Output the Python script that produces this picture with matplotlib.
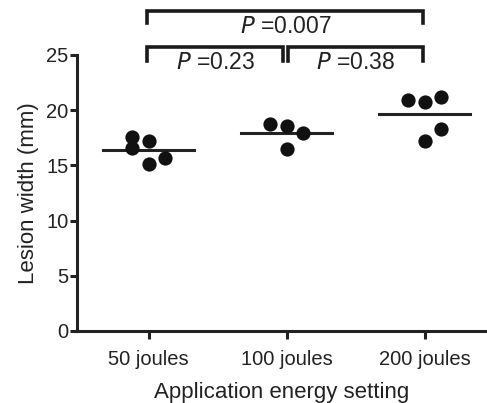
import numpy as np
import matplotlib.pyplot as plt

plt.rcParams['font.family'] = ['Liberation Sans', 'DejaVu Sans']

groups = ['50 joules', '100 joules', '200 joules']
vals_50 = [17.6, 17.2, 16.6, 15.1, 15.7]
vals_100 = [18.75, 18.6, 17.9, 16.5]
vals_200 = [20.9, 20.7, 21.2, 18.3, 17.2]
offsets_50 = [-0.12, 0.0, -0.12, 0.0, 0.12]
offsets_100 = [-0.12, 0.0, 0.12, 0.0]
offsets_200 = [-0.12, 0.0, 0.12, 0.12, 0.0]
pvals = ['0.23', '0.38', '0.007']

data = [vals_50, vals_100, vals_200]
offs = [offsets_50, offsets_100, offsets_200]

fig = plt.figure(figsize=(4.87, 4.03), dpi=100)
ax = fig.add_axes([77/487, 72/403, (487-77)/487, 276/403])

for i, (v, o) in enumerate(zip(data, offs)):
    ax.scatter(np.array(o) + i, v, s=105, color='#111111', zorder=3, linewidths=0)
    m = np.mean(v)
    ax.plot([i - 0.33, i + 0.33], [m, m], color='#222222', lw=2.2, zorder=2)

ax.set_xlim(-0.52, 2.45)
ax.set_ylim(0, 25)
ax.set_yticks([0, 5, 10, 15, 20, 25])
ax.set_xticks([0, 1, 2])
ax.set_xticklabels(groups)
for s in ['top', 'right']:
    ax.spines[s].set_visible(False)
for s in ['left', 'bottom']:
    ax.spines[s].set_linewidth(2.2)
    ax.spines[s].set_color('#222222')
ax.tick_params(axis='both', width=2.2, length=5, color='#222222',
               labelsize=14.5, labelcolor='#222222', pad=1)
ax.tick_params(axis='x', length=6, pad=8)
ax.set_xlabel('Application energy setting', fontsize=16, color='#222222', labelpad=9)
ax.set_ylabel('Lesion width (mm)', fontsize=16, color='#222222', labelpad=5)


def bracket(x0, x1, ytop, ybot, label, ytext):
    ax.plot([x0, x0, x1, x1], [ybot, ytop, ytop, ybot], color='#1a1a1a',
            lw=2.6, clip_on=False, solid_joinstyle='miter')
    ax.text((x0 + x1) / 2, ytext, r'$\it{P}$ =' + label, ha='center', va='center',
            fontsize=16.5, color='#222222', clip_on=False)


bracket(-0.01, 0.97, 25.7, 24.5, pvals[0], 24.3)
bracket(1.01, 1.99, 25.7, 24.5, pvals[1], 24.3)
bracket(-0.01, 1.99, 29.0, 27.9, pvals[2], 27.6)

fig.savefig('out.png', dpi=100)
